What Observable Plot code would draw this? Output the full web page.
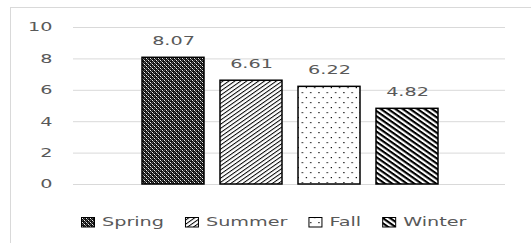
<!DOCTYPE html>
<html><head><meta charset="utf-8">
<script src="https://cdn.jsdelivr.net/npm/d3@7"></script>
<script src="https://cdn.jsdelivr.net/npm/@observablehq/plot@0.6"></script>
<style>
html,body{margin:0;padding:0;background:#fff;width:531px;height:243px;overflow:hidden;}
#frame{position:absolute;left:10px;top:7px;width:600px;height:300px;border:1px solid #d9d9d9;box-sizing:border-box;}
#chart{position:absolute;left:0;top:0;}
#legend{position:absolute;left:0;top:200px;}
svg text{font-family:"DejaVu Sans";}
</style></head><body>
<div id="frame"></div>
<div id="chart"></div>
<div id="legend"></div>
<script>
const seasons = ["Spring", "Summer", "Fall", "Winter"];
const values = [8.07, 6.61, 6.22, 4.82];
const valueLabels = ["8.07", "6.61", "6.22", "4.82"];
const yTicks = [0, 2, 4, 6, 8, 10];
const patternIds = ["p-spring", "p-summer", "p-fall", "p-winter"];

const data = seasons.map((s, i) => ({season: s, value: values[i], label: valueLabels[i], fill: `url(#${patternIds[i]})`}));
const STRETCH = 1.6;
const TEXT = "#595959";

function defsMark() {
  const defs = d3.create("svg:defs");
  // Spring: dark dotted diamond
  const p1 = defs.append("pattern").attr("id", "p-spring").attr("patternUnits", "userSpaceOnUse").attr("width", 4).attr("height", 4);
  p1.append("rect").attr("width", 4).attr("height", 4).attr("fill", "#111");
  [[0,0,"#f2f2f2"],[2,2,"#f2f2f2"],[1,1,"#8a8a8a"],[3,3,"#8a8a8a"],[2,0,"#555"],[0,2,"#555"]].forEach(([px,py,c]) =>
    p1.append("rect").attr("x", px).attr("y", py).attr("width", 1).attr("height", 1).attr("fill", c));
  // Summer: thin up-right diagonals
  const p2 = defs.append("pattern").attr("id", "p-summer").attr("patternUnits", "userSpaceOnUse").attr("width", 8).attr("height", 3.4).attr("patternTransform", "rotate(-35)");
  p2.append("rect").attr("width", 8).attr("height", 3.4).attr("fill", "#fff");
  p2.append("rect").attr("width", 8).attr("height", 1).attr("fill", "#000");
  // Fall: sparse dots
  const p3 = defs.append("pattern").attr("id", "p-fall").attr("patternUnits", "userSpaceOnUse").attr("width", 8.3).attr("height", 10);
  p3.append("rect").attr("width", 8.3).attr("height", 10).attr("fill", "#fff");
  p3.append("rect").attr("x", 3).attr("y", 2).attr("width", 1.2).attr("height", 1.2).attr("fill", "#000");
  p3.append("rect").attr("x", 7.1).attr("y", 7).attr("width", 1.2).attr("height", 1.2).attr("fill", "#000");
  // Winter: wide down-right diagonals
  const p4 = defs.append("pattern").attr("id", "p-winter").attr("patternUnits", "userSpaceOnUse").attr("width", 8).attr("height", 4.2).attr("patternTransform", "rotate(35)");
  p4.append("rect").attr("width", 8).attr("height", 4.2).attr("fill", "#fff");
  p4.append("rect").attr("width", 8).attr("height", 2.1).attr("fill", "#000");
  return defs.node();
}

const plot = Plot.plot({
  width: 531, height: 200,
  marginLeft: 73, marginRight: 26, marginTop: 27, marginBottom: 16,
  style: {fontFamily: "DejaVu Sans", fontSize: "12px", color: TEXT, background: "transparent", overflow: "visible"},
  x: {domain: seasons, range: [126, 454], padding: 0.2051, axis: null},
  y: {domain: [0, 10], ticks: yTicks, tickSize: 0, tickPadding: 21, label: null, tickFormat: d => String(d)},
  color: {type: "identity"},
  marks: [
    defsMark,
    Plot.ruleY(yTicks, {stroke: "#d9d9d9", strokeWidth: 1}),
    Plot.barY(data, {x: "season", y: "value", fill: "fill", stroke: "#000", strokeWidth: 1.5}),
    Plot.text(data, {x: "season", y: "value", text: "label", dy: -17, fill: TEXT, lineAnchor: "middle", fontSize: 12})
  ]
});
document.getElementById("chart").appendChild(plot);

function stretchText(root) {
  root.querySelectorAll("text").forEach(t => {
    const len = t.getComputedTextLength();
    if (len > 0) {
      t.setAttribute("textLength", len * STRETCH);
      t.setAttribute("lengthAdjust", "spacingAndGlyphs");
    }
  });
}
stretchText(plot);

// Legend
const lg = d3.create("svg").attr("width", 531).attr("height", 43)
  .style("font-family", "DejaVu Sans").style("font-size", "12px");
seasons.forEach((s, i) => {
  lg.append("rect").attr("x", 81.5).attr("y", 17.5).attr("width", 13).attr("height", 9.5)
    .attr("fill", `url(#${patternIds[i]})`).attr("stroke", "#000").attr("stroke-width", 1);
  lg.append("text").attr("x", 101).attr("y", 26).attr("fill", TEXT).text(s);
});
document.getElementById("legend").appendChild(lg.node());
let cx = 81;
const rects = lg.selectAll("rect").nodes();
const texts = lg.selectAll("text").nodes();
texts.forEach((t, i) => {
  const len = t.getComputedTextLength() * STRETCH;
  rects[i].setAttribute("x", cx + 0.5);
  t.setAttribute("x", cx + 21);
  t.setAttribute("textLength", len);
  t.setAttribute("lengthAdjust", "spacingAndGlyphs");
  cx = cx + 21 + len + 21;
});
</script>
</body></html>
